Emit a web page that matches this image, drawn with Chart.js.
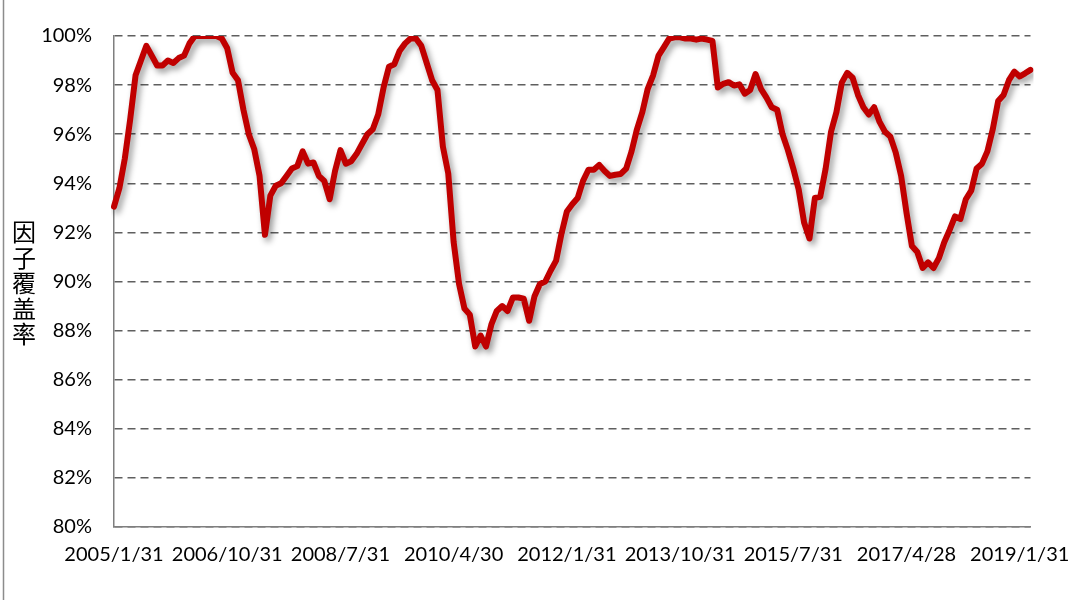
<!DOCTYPE html>
<html>
<head>
<meta charset="utf-8">
<script src="https://cdn.jsdelivr.net/npm/chart.js@4/dist/chart.umd.min.js"></script>
<style>
  html, body { margin: 0; padding: 0; background: #fff; }
  #wrap { width: 1086px; height: 600px; position: relative; }
</style>
</head>
<body>
<div id="wrap"><canvas id="chart" width="1086" height="600"></canvas></div>
<script>
// 月度日期：2005/1 到 2019/3
const startYear = 2005;
const monthCount = 171;
const categories = [];
for (let i = 0; i < monthCount; i++) {
  const y = startYear + Math.floor(i / 12), m = i % 12 + 1;
  const d = new Date(y, m, 0).getDate();
  categories.push(`${y}/${m}/${d}`);
}

// 横轴显示的刻度（每 21 个月一个）
const tickEvery = 21;
const tickLabels = ["2005/1/31", "2006/10/31", "2008/7/31", "2010/4/30", "2012/1/31",
                    "2013/10/31", "2015/7/31", "2017/4/28", "2019/1/31"];

// 因子覆盖率 (%)
const coverage = [
  93.05, 93.8, 95.0, 96.6, 98.4, 99.0, 99.6, 99.2, 98.8, 98.8, 99.0, 98.9,
  99.1, 99.2, 99.7, 100, 100, 100, 100, 100, 99.9, 99.5, 98.5, 98.2,
  97.0, 96.0, 95.4, 94.3, 91.9, 93.5, 93.9, 94.0, 94.3, 94.6, 94.7, 95.3,
  94.8, 94.85, 94.3, 94.1, 93.35, 94.5, 95.35, 94.8, 94.9, 95.2, 95.6, 96.0,
  96.2, 96.8, 97.9, 98.75, 98.85, 99.4, 99.7, 99.9, 99.9, 99.6, 98.9, 98.2,
  97.8, 95.5, 94.4, 91.6, 89.9, 88.9, 88.65, 87.35, 87.8, 87.35, 88.25, 88.8,
  89.0, 88.8, 89.35, 89.35, 89.3, 88.4, 89.4, 89.9, 90.0, 90.45, 90.85, 91.95,
  92.85, 93.15, 93.4, 94.1, 94.55, 94.55, 94.75, 94.5, 94.3, 94.35, 94.38, 94.6,
  95.3, 96.2, 96.9, 97.85, 98.4, 99.2, 99.55, 99.9, 99.95, 99.95, 99.9, 99.9,
  99.85, 99.9, 99.85, 99.8, 97.9, 98.05, 98.12, 97.98, 98.03, 97.65, 97.8, 98.45,
  97.85, 97.5, 97.1, 97.0, 96.0, 95.35, 94.6, 93.75, 92.4, 91.75, 93.4, 93.45,
  94.6, 96.1, 96.9, 98.1, 98.5, 98.3, 97.6, 97.1, 96.8, 97.1, 96.5, 96.1,
  95.9, 95.25, 94.3, 92.8, 91.45, 91.2, 90.55, 90.78, 90.55, 90.95, 91.6, 92.1,
  92.65, 92.55, 93.35, 93.7, 94.6, 94.8, 95.3, 96.2, 97.35, 97.6, 98.2, 98.55,
  98.35, 98.48, 98.62
];

const yTitle = "因子覆盖率";
const tickFont = { family: "Lato, 'Open Sans', sans-serif", size: 20 };

// 线条阴影
const shadowPlugin = {
  id: "shadow",
  beforeDatasetDraw(chart) {
    const ctx = chart.ctx;
    ctx.save();
    ctx.shadowColor = "rgba(0,0,0,0.4)";
    ctx.shadowBlur = 6;
    ctx.shadowOffsetX = 3;
    ctx.shadowOffsetY = 4;
  },
  afterDatasetDraw(chart) {
    chart.ctx.restore();
  }
};

// 竖排纵轴标题 + 左侧边线
const decorPlugin = {
  id: "decor",
  afterDraw(chart) {
    const ctx = chart.ctx;
    ctx.save();
    ctx.strokeStyle = "#8c8c8c";
    ctx.lineWidth = 1.5;
    ctx.beginPath();
    ctx.moveTo(3.5, 0);
    ctx.lineTo(3.5, 600);
    ctx.stroke();

    ctx.fillStyle = "#000";
    ctx.font = "24px 'Noto Sans CJK SC'";
    ctx.textAlign = "center";
    ctx.textBaseline = "middle";
    [...yTitle].forEach((ch, i) => ctx.fillText(ch, 24, 232 + i * 25.5));
    ctx.restore();
  }
};

new Chart(document.getElementById("chart"), {
  type: "line",
  data: {
    labels: categories,
    datasets: [{
      data: coverage,
      borderColor: "#c00000",
      borderWidth: 6,
      pointRadius: 0,
      tension: 0,
      borderJoinStyle: "round",
      borderCapStyle: "round"
    }]
  },
  options: {
    responsive: false,
    animation: false,
    layout: { padding: { left: 0, right: 54, top: 36, bottom: 0 } },
    plugins: { legend: { display: false }, tooltip: { enabled: false } },
    scales: {
      x: {
        offset: false,
        grid: { display: false, drawTicks: false },
        border: { display: true, color: "#7f7f7f", width: 1.5 },
        afterFit: s => { s.height = 73; },
        ticks: {
          autoSkip: false,
          maxRotation: 0,
          minRotation: 0,
          padding: 16,
          color: "#000",
          font: tickFont,
          callback: (v, i) => (i % tickEvery === 0 ? tickLabels[i / tickEvery] : null)
        }
      },
      y: {
        min: 80,
        max: 100,
        afterFit: s => { s.width = 114; },
        grid: {
          color: "#5f5f5f",
          lineWidth: 1.5,
          drawTicks: false
        },
        border: { display: true, color: "#7f7f7f", width: 1.5, dash: [8, 5] },
        ticks: {
          stepSize: 2,
          padding: 22,
          color: "#000",
          font: tickFont,
          callback: v => `${v}%`
        }
      }
    }
  },
  plugins: [shadowPlugin, decorPlugin]
});
</script>
</body>
</html>
